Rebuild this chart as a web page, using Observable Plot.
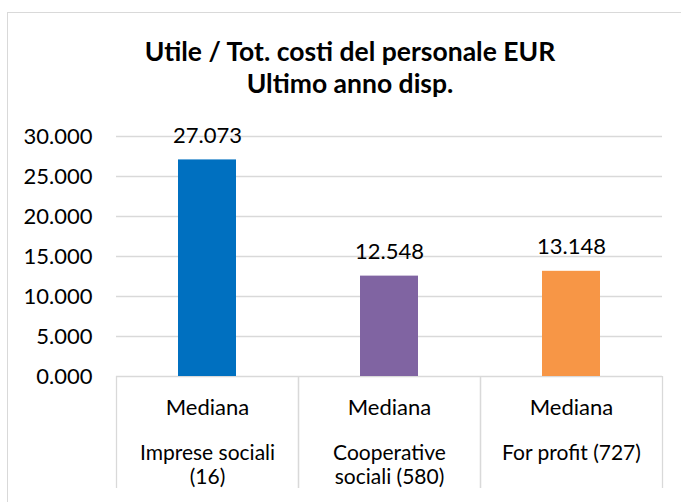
<!DOCTYPE html>
<html>
<head>
<meta charset="utf-8">
<script src="https://cdn.jsdelivr.net/npm/d3@7"></script>
<script src="https://cdn.jsdelivr.net/npm/@observablehq/plot@0.6"></script>
<style>
  html, body { margin: 0; padding: 0; background: #fff; }
  body { width: 681px; height: 502px; overflow: hidden; position: relative; font-family: Lato, "Open Sans", sans-serif; }
  #frame { position: absolute; left: 7px; top: 12px; width: 740px; height: 560px; border: 1.5px solid #d9d9d9; box-sizing: border-box; }
  #title { position: relative; width: 700px; height: 110px; box-sizing: border-box; padding-top: 35px; text-align: center; font-weight: bold; font-size: 26.5px; line-height: 32px; color: #000; }
  #chart { position: relative; }
</style>
</head>
<body>
<div id="frame"></div>
<div id="title">Utile / Tot. costi del personale EUR<br>Ultimo anno disp.</div>
<div id="chart"></div>
<script>
const categories = ["Imprese sociali (16)", "Cooperative sociali (580)", "For profit (727)"];
const values = [27.073, 12.548, 13.148];
const colors = ["#0070C0", "#8064A2", "#F79646"];
const levelLabel = ["Mediana", "Mediana", "Mediana"];
const nameLabel = ["Imprese sociali\n(16)", "Cooperative\nsociali (580)", "For profit (727)"];
const yTicks = [0, 5, 10, 15, 20, 25, 30];

const data = categories.map((c, i) => ({cat: c, value: values[i], color: colors[i], lvl: levelLabel[i], name: nameLabel[i]}));

const W = 681, mL = 116, mR = 19;
const half = (W - mL - mR) / categories.length / 2;
const fmt = d3.format(".3f");

const chart = Plot.plot({
  width: W,
  height: 392,
  marginTop: 26,
  marginBottom: 126,
  marginLeft: mL,
  marginRight: mR,
  style: {fontFamily: "Lato, 'Open Sans', sans-serif", fontSize: "22px", color: "#000", background: "transparent"},
  x: {domain: categories, padding: 0, axis: null},
  y: {domain: [0, 30], axis: null},
  marks: [
    Plot.gridY(yTicks.filter(d => d > 0), {stroke: "#d9d9d9", strokeOpacity: 1, strokeWidth: 1.3}),
    Plot.axisY(yTicks, {tickSize: 0, tickPadding: 24, tickFormat: fmt, fontSize: 22, fill: "#000", label: null}),
    Plot.ruleY([0], {stroke: "#d9d9d9", strokeWidth: 1.3}),
    Plot.ruleX(data, {x: "cat", y1: 0, y2: -14, dx: -half, stroke: "#d9d9d9", strokeWidth: 1.3}),
    Plot.ruleX(data, {x: "cat", y1: 0, y2: -14, dx: half, stroke: "#d9d9d9", strokeWidth: 1.3}),
    Plot.barY(data, {x: "cat", y: "value", fill: "color", insetLeft: 62, insetRight: 62}),
    Plot.text(data, {x: "cat", y: "value", text: d => fmt(d.value), lineAnchor: "bottom", dy: -17, fontSize: 22, fill: "#000"}),
    Plot.text(data, {x: "cat", y: 0, text: "lvl", lineAnchor: "bottom", dy: 38, fontSize: 22, fill: "#000"}),
    Plot.text(data, {x: "cat", y: 0, text: "name", lineAnchor: "top", lineHeight: 1.1, dy: 67.5, fontSize: 21, fill: "#000"})
  ]
});
document.getElementById("chart").appendChild(chart);
</script>
</body>
</html>
